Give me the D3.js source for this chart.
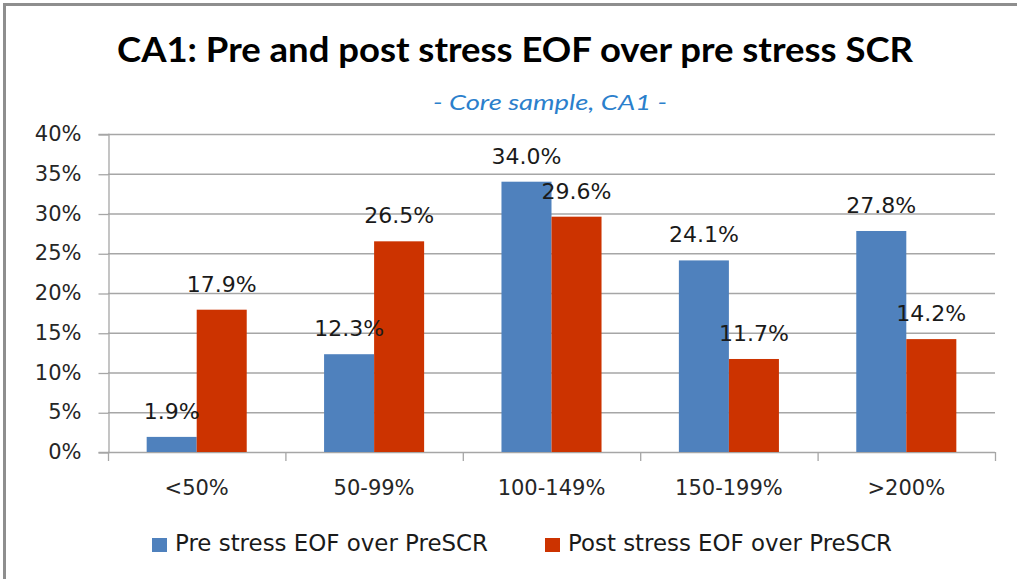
<!DOCTYPE html>
<html><head><meta charset="utf-8">
<script src="https://cdn.jsdelivr.net/npm/d3@7"></script>
<style>html,body{margin:0;padding:0;background:#fff;overflow:hidden}svg{display:block}</style>
</head><body>
<svg id="chart" width="1017" height="579"></svg>
<script>
const categories = ["<50%", "50-99%", "100-149%", "150-199%", ">200%"];
const seriesNames = ["Pre stress EOF over PreSCR", "Post stress EOF over PreSCR"];
const preStress = [1.9, 12.3, 34.0, 24.1, 27.8];
const postStress = [17.9, 26.5, 29.6, 11.7, 14.2];
const yTicks = [0, 5, 10, 15, 20, 25, 30, 35, 40];
const titleText = "CA1: Pre and post stress EOF over pre stress SCR";
const subtitleText = "- Core sample, CA1 -";

const colors = ["#4F81BD", "#CC3300"];
const svg = d3.select("#chart");
const W = 1017, H = 579;
const plot = {left: 108, right: 995, top: 134, bottom: 452};

// border (top and left)
svg.append("line").attr("x1", 3).attr("x2", W).attr("y1", 4.5).attr("y2", 4.5)
  .attr("stroke", "#8e8e8e").attr("stroke-width", 3);
svg.append("line").attr("x1", 4.5).attr("x2", 4.5).attr("y1", 3).attr("y2", H)
  .attr("stroke", "#8e8e8e").attr("stroke-width", 3);

// title
svg.append("text").attr("x", 515).attr("y", 62).attr("text-anchor", "middle")
  .attr("font-family", "Lato, 'Open Sans', sans-serif").attr("font-weight", "bold")
  .attr("font-size", 34).attr("fill", "#000")
  .attr("textLength", 796).attr("lengthAdjust", "spacingAndGlyphs")
  .text(titleText);
svg.append("text").attr("x", 550).attr("y", 110).attr("text-anchor", "middle")
  .attr("font-family", "Lato, 'Open Sans', sans-serif").attr("font-style", "italic")
  .attr("font-size", 22).attr("fill", "#2B80CC")
  .attr("textLength", 234).attr("lengthAdjust", "spacingAndGlyphs")
  .text(subtitleText);

const x0 = d3.scaleBand().domain(categories).range([plot.left, plot.right])
  .paddingInner(0.436).paddingOuter(0.218);
const x1 = d3.scaleBand().domain([0, 1]).range([0, x0.bandwidth()]);
const y = d3.scaleLinear().domain([0, 40]).range([plot.bottom, plot.top]);

// gridlines
svg.append("g").selectAll("line").data(yTicks.filter(d => d > 0)).join("line")
  .attr("x1", plot.left).attr("x2", plot.right)
  .attr("y1", d => y(d) + 0.5).attr("y2", d => y(d) + 0.5)
  .attr("stroke", "#A6A6A6").attr("stroke-width", 1.3);

// y axis
const yAxis = svg.append("g").attr("transform", `translate(${plot.left + 0.5},0)`)
  .call(d3.axisLeft(y).tickValues(yTicks).tickSize(10).tickPadding(17).tickFormat(d => d + "%"));
yAxis.select(".domain").attr("stroke", "#A6A6A6").attr("stroke-width", 1.3);
yAxis.selectAll(".tick line").attr("stroke", "#A6A6A6").attr("stroke-width", 1.3)
  .attr("transform", "translate(0,0.5)");
yAxis.selectAll(".tick text").attr("font-family", "'DejaVu Sans', Verdana, sans-serif")
  .attr("font-size", 21).attr("fill", "#262626");

// x axis line and boundary ticks
const xAxis = svg.append("g");
xAxis.append("line").attr("x1", plot.left).attr("x2", plot.right)
  .attr("y1", plot.bottom + 0.5).attr("y2", plot.bottom + 0.5)
  .attr("stroke", "#A6A6A6").attr("stroke-width", 1.3);
const bounds = d3.range(categories.length + 1).map(i => x0.range()[0] + i * x0.step());
xAxis.selectAll(".bt").data(bounds).join("line").attr("class", "bt")
  .attr("x1", d => d + 0.5).attr("x2", d => d + 0.5)
  .attr("y1", plot.bottom).attr("y2", plot.bottom + 9)
  .attr("stroke", "#A6A6A6").attr("stroke-width", 1.3);
xAxis.selectAll(".cl").data(categories).join("text").attr("class", "cl")
  .attr("x", d => x0(d) + x0.bandwidth() / 2).attr("y", 495)
  .attr("text-anchor", "middle")
  .attr("font-family", "'DejaVu Sans', Verdana, sans-serif")
  .attr("font-size", 21).attr("fill", "#262626").text(d => d);

// bars
const rows = categories.map((c, i) => ({cat: c, vals: [preStress[i], postStress[i]]}));
const groups = svg.append("g").selectAll("g").data(rows).join("g")
  .attr("transform", d => `translate(${x0(d.cat)},0)`);
groups.selectAll("rect").data(d => d.vals.map((v, k) => ({k, v}))).join("rect")
  .attr("x", d => x1(d.k)).attr("width", x1.bandwidth())
  .attr("y", d => y(d.v)).attr("height", d => y(0) - y(d.v))
  .attr("fill", d => colors[d.k]);
groups.selectAll("text").data(d => d.vals.map((v, k) => ({k, v}))).join("text")
  .attr("x", d => x1(d.k) + x1.bandwidth() / 2).attr("y", d => y(d.v) - 18)
  .attr("text-anchor", "middle")
  .attr("font-family", "'DejaVu Sans', Verdana, sans-serif")
  .attr("font-size", 22).attr("fill", "#1a1a1a")
  .text(d => d.v.toFixed(1) + "%");

// legend
const legendX = [152, 545];
const legendW = [313, 324];
const leg = svg.append("g").selectAll("g").data(seriesNames).join("g")
  .attr("transform", (d, i) => `translate(${legendX[i]},0)`);
leg.append("rect").attr("x", 0).attr("y", 538).attr("width", 15).attr("height", 14)
  .attr("fill", (d, i) => colors[i]);
leg.append("text").attr("x", 23).attr("y", 551)
  .attr("font-family", "'DejaVu Sans', Verdana, sans-serif")
  .attr("font-size", 22.5).attr("fill", "#1a1a1a")
  .attr("textLength", (d, i) => legendW[i]).attr("lengthAdjust", "spacingAndGlyphs")
  .text(d => d);
</script>
</body></html>
